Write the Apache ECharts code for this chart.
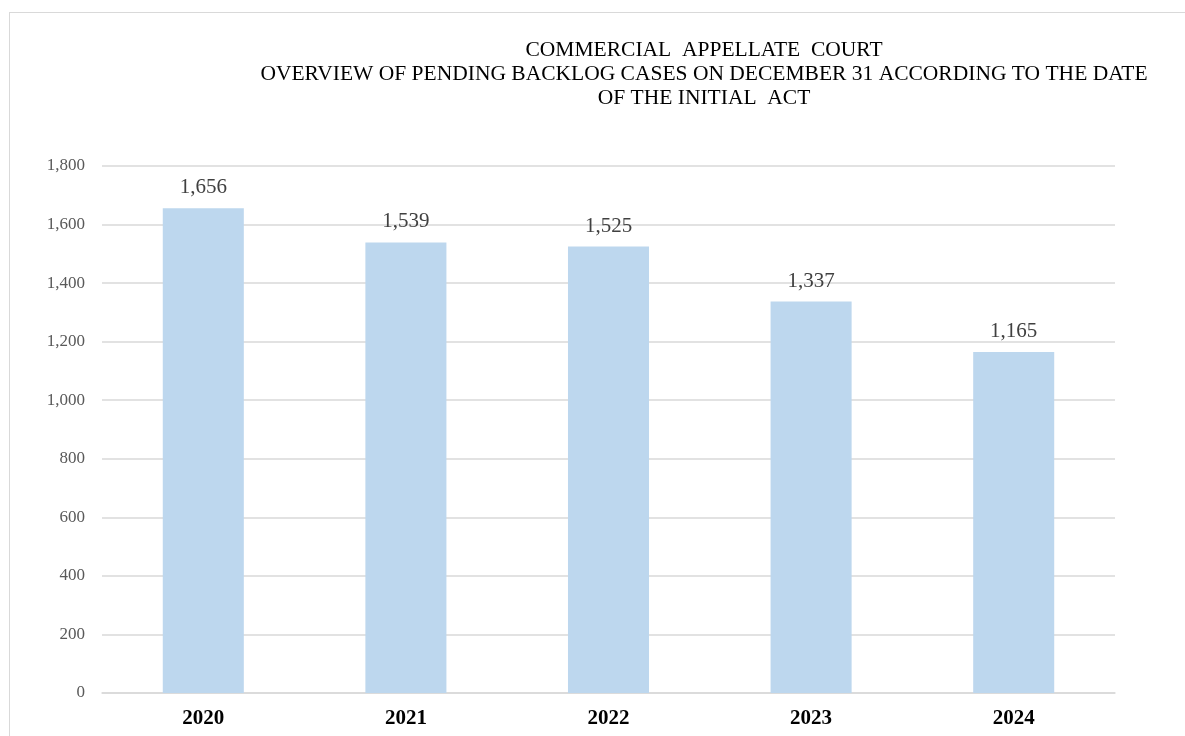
<!DOCTYPE html>
<html>
<head>
<meta charset="utf-8">
<script src="https://cdn.jsdelivr.net/npm/echarts@6/dist/echarts.min.js"></script>
<style>
  html, body { margin: 0; padding: 0; background: #fff; }
  #frame {
    position: absolute; left: 9px; top: 12px; width: 1200px; height: 760px;
    border: 1.5px solid #d9d9d9; box-sizing: border-box;
  }
  #chart { position: absolute; left: 0; top: 0; width: 1185px; height: 736px; }
</style>
</head>
<body>
<div id="frame"></div>
<div id="chart"></div>
<script>
const years = ["2020", "2021", "2022", "2023", "2024"];
const pendingCases = [1656, 1539, 1525, 1337, 1165];
const titleLines = [
  "COMMERCIAL  APPELLATE  COURT",
  "OVERVIEW OF PENDING BACKLOG CASES ON DECEMBER 31 ACCORDING TO THE DATE",
  "OF THE INITIAL  ACT",
];

const serif = "'Liberation Serif', 'Times New Roman', serif";
const chart = echarts.init(document.getElementById("chart"));

const option = {
  backgroundColor: "transparent",
  animation: false,
  title: {
    text: titleLines.join("\n"),
    left: 699,
    top: 33,
    textAlign: "center",
    textStyle: {
      fontFamily: serif,
      fontSize: 21.5,
      fontWeight: "normal",
      color: "#000",
      lineHeight: 24,
    },
  },
  grid: { left: 102, right: 70, top: 166, bottom: 43 },
  xAxis: {
    type: "category",
    data: years,
    axisTick: { show: false },
    axisLine: { lineStyle: { color: "#d9d9d9", width: 1.5 } },
    axisLabel: {
      color: "#000",
      fontFamily: serif,
      fontSize: 21,
      fontWeight: "bold",
      margin: 15,
    },
  },
  yAxis: {
    type: "value",
    min: 0,
    max: 1800,
    interval: 200,
    axisLine: { show: false },
    axisTick: { show: false },
    splitLine: { lineStyle: { color: "#d9d9d9", width: 1.5 } },
    axisLabel: {
      color: "#595959",
      fontFamily: serif,
      fontSize: 17,
      margin: 17,
      formatter: (v) => v.toLocaleString("en-US"),
    },
  },
  series: [
    {
      type: "bar",
      data: pendingCases,
      barWidth: "40%",
      itemStyle: { color: "#bdd7ee" },
      label: {
        show: true,
        position: "top",
        distance: 10,
        color: "#404040",
        fontFamily: serif,
        fontSize: 21,
        formatter: (p) => p.value.toLocaleString("en-US"),
      },
    },
  ],
};

chart.setOption(option);
</script>
</body>
</html>
